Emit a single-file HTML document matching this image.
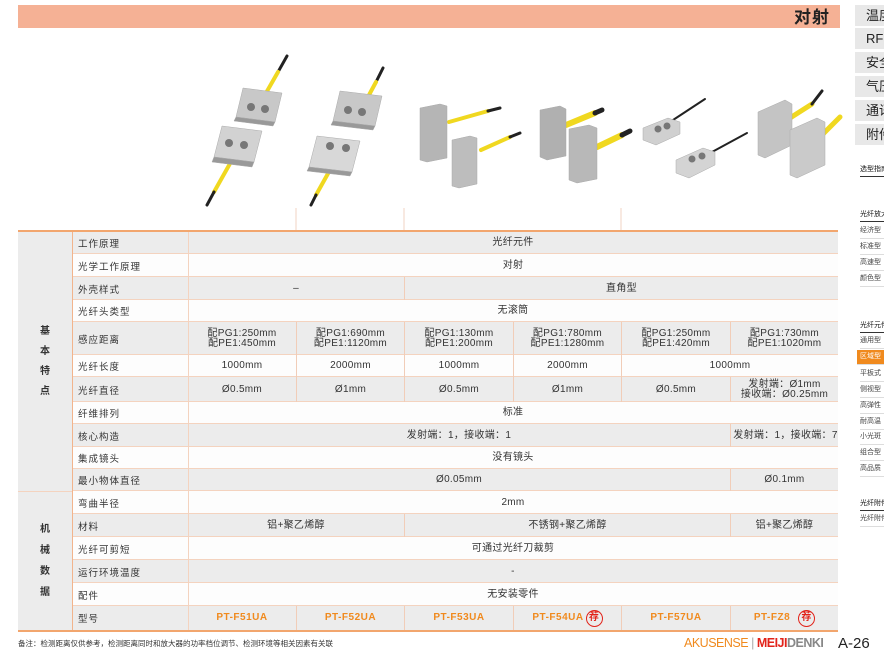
<!DOCTYPE html>
<html><head><meta charset="utf-8"><style>
*{margin:0;padding:0;box-sizing:border-box}
body{width:884px;height:660px;background:#fff;position:relative;overflow:hidden;font-family:"Liberation Sans","Noto Sans CJK SC",sans-serif;color:#333}
.a{position:absolute}
.r{position:absolute;left:72px;width:766px;border-bottom:1px solid #f4d3bf}
.g{background:#ececec}.w{background:#fdfdfd}
.lb{position:absolute;left:78px;font-size:9.5px;display:flex;align-items:center;letter-spacing:1px}
.c{position:absolute;display:flex;align-items:center;justify-content:center;font-size:10px;text-align:center;line-height:10px;letter-spacing:0.3px}
.bl{border-left:1px solid #f1cdb8}
.m{color:#f08a1e;font-weight:bold;font-size:10px;letter-spacing:0.5px}
.jian{display:inline-block;width:17px;height:17px;border:1.5px solid #e2231a;border-radius:50%;color:#e2231a;font-size:10px;line-height:14px;text-align:center;font-weight:bold;margin-left:2px}
.sb{position:absolute;left:855px;width:29px;height:21px;background:#e8e8e8;font-size:13px;line-height:21px;padding-left:11px;color:#222;overflow:hidden;white-space:nowrap}
.st{position:absolute;left:860px;font-size:7px;color:#444;white-space:nowrap;width:24px;overflow:hidden;border-bottom:1px solid #ddd;height:15px;line-height:14px}
.sh{position:absolute;left:860px;font-size:7px;color:#111;white-space:nowrap;width:24px;overflow:hidden;border-bottom:1px solid #333;height:14px;line-height:13px}
</style></head><body>
<div class="a" style="left:18px;top:5px;width:822px;height:23px;background:#f5b195"></div>
<div class="a" style="left:794px;top:3px;font-size:17px;font-weight:bold;color:#222;letter-spacing:1px">对射</div>

<div class="sb" style="top:5px">温度</div>
<div class="sb" style="top:28px">RF</div>
<div class="sb" style="top:52px">安全</div>
<div class="sb" style="top:76px">气压</div>
<div class="sb" style="top:100px">通讯</div>
<div class="sb" style="top:124px">附件</div>
<div class="sh" style="top:163px">选型指南</div>
<div class="sh" style="top:208px">光纤放大器</div>
<div class="st" style="top:224px">经济型</div>
<div class="st" style="top:240px">标准型</div>
<div class="st" style="top:256px">高速型</div>
<div class="st" style="top:272px">颜色型</div>
<div class="sh" style="top:319px">光纤元件</div>
<div class="st" style="top:334px">通用型</div>
<div class="st" style="top:350px;background:#f08a1e;color:#fff;left:857px;width:27px;padding-left:3px">区域型</div>
<div class="st" style="top:367px">平板式</div>
<div class="st" style="top:383px">侧视型</div>
<div class="st" style="top:399px">高弹性</div>
<div class="st" style="top:415px">耐高温</div>
<div class="st" style="top:430px">小光斑</div>
<div class="st" style="top:446px">组合型</div>
<div class="st" style="top:462px">高品质</div>
<div class="sh" style="top:497px">光纤附件</div>
<div class="st" style="top:512px">光纤附件</div>

<svg class="a" style="left:0;top:0" width="884" height="232">
<g stroke-linecap="round" fill="none">
<line x1="287" y1="56" x2="278" y2="72" stroke="#222" stroke-width="3"/>
<line x1="278" y1="72" x2="262" y2="100" stroke="#f0d820" stroke-width="4"/>
<line x1="232" y1="160" x2="214" y2="192" stroke="#f0d820" stroke-width="4"/>
<line x1="214" y1="192" x2="207" y2="205" stroke="#222" stroke-width="3"/>
<line x1="383" y1="68" x2="376" y2="82" stroke="#222" stroke-width="3"/>
<line x1="376" y1="82" x2="362" y2="108" stroke="#f0d820" stroke-width="4"/>
<line x1="330" y1="170" x2="316" y2="195" stroke="#f0d820" stroke-width="4"/>
<line x1="316" y1="195" x2="311" y2="205" stroke="#222" stroke-width="3"/>
<line x1="449" y1="122" x2="488" y2="111" stroke="#f0d820" stroke-width="4"/>
<line x1="488" y1="111" x2="500" y2="108" stroke="#222" stroke-width="3"/>
<line x1="481" y1="150" x2="510" y2="137" stroke="#f0d820" stroke-width="4"/>
<line x1="510" y1="137" x2="520" y2="133" stroke="#222" stroke-width="3"/>
<line x1="566" y1="125" x2="595" y2="113" stroke="#f0d820" stroke-width="6"/>
<line x1="595" y1="113" x2="602" y2="110" stroke="#222" stroke-width="5"/>
<line x1="597" y1="147" x2="622" y2="135" stroke="#f0d820" stroke-width="6"/>
<line x1="622" y1="135" x2="630" y2="131" stroke="#222" stroke-width="5"/>
<line x1="670" y1="122" x2="705" y2="99" stroke="#222" stroke-width="2"/>
<line x1="712" y1="152" x2="747" y2="133" stroke="#222" stroke-width="2"/>
<line x1="790" y1="118" x2="812" y2="104" stroke="#f0d820" stroke-width="5"/>
<line x1="812" y1="104" x2="822" y2="91" stroke="#222" stroke-width="3"/>
<line x1="820" y1="137" x2="840" y2="117" stroke="#f0d820" stroke-width="5"/>
</g>
<g stroke="#aaa" stroke-width="0.5">
<polygon points="243,88 282,93 275,122 236,117" fill="#c8c8c8"/>
<polygon points="236,117 275,122 273,126 234,121" fill="#999"/>
<polygon points="222,126 262,131 254,162 214,157" fill="#d2d2d2"/>
<polygon points="214,157 254,162 252,167 212,162" fill="#999"/>
<polygon points="340,91 382,96 375,126 333,121" fill="#c8c8c8"/>
<polygon points="333,121 375,126 373,130 331,125" fill="#999"/>
<polygon points="317,136 360,141 352,172 309,167" fill="#d8d8d8"/>
<polygon points="309,167 352,172 350,176 307,171" fill="#999"/>
<polygon points="420,108 440,104 447,106 447,158 427,162 420,160" fill="#b5b5b5"/>
<polygon points="452,140 470,136 477,138 477,184 459,188 452,186" fill="#bdbdbd"/>
<polygon points="540,110 560,106 566,109 566,156 547,160 540,157" fill="#b0b0b0"/>
<polygon points="569,129 589,125 597,128 597,179 577,183 569,180" fill="#b8b8b8"/>
<polygon points="643,128 668,118 680,122 680,134 656,145 643,140" fill="#d0d0d0"/>
<polygon points="676,160 703,148 715,152 715,165 689,178 676,173" fill="#d4d4d4"/>
<polygon points="758,112 785,100 792,104 792,145 765,158 758,155" fill="#c4c4c4"/>
<polygon points="790,130 817,118 825,122 825,165 797,178 790,175" fill="#cacaca"/>
</g>
<g fill="#777">
<circle cx="251" cy="107" r="4"/><circle cx="265" cy="109" r="4"/>
<circle cx="229" cy="143" r="4"/><circle cx="244" cy="145" r="4"/>
<circle cx="348" cy="110" r="4"/><circle cx="362" cy="112" r="4"/>
<circle cx="330" cy="146" r="4"/><circle cx="346" cy="148" r="4"/>
<circle cx="658" cy="129" r="3.5"/><circle cx="667" cy="126" r="3.5"/>
<circle cx="692" cy="159" r="3.5"/><circle cx="702" cy="156" r="3.5"/>
</g>
<g stroke="#f1d3c3" stroke-width="1"><line x1="296" y1="208" x2="296" y2="231"/><line x1="404" y1="208" x2="404" y2="231"/><line x1="621" y1="208" x2="621" y2="231"/></g>
</svg>

<div class="a" style="left:18px;top:230px;width:820px;height:2px;background:#f2a66e"></div>
<div class="a" style="left:18px;top:232px;width:54px;height:398px;background:#ececec"></div>
<div class="a" style="left:18px;top:491px;width:54px;height:1px;background:#f4d3bf"></div>
<div class="a" style="left:38px;top:232px;width:14px;height:259px;display:flex;flex-direction:column;justify-content:center;align-items:center;font-size:10px;line-height:20px;font-weight:bold">基<br>本<br>特<br>点</div>
<div class="a" style="left:38px;top:492px;width:14px;height:138px;display:flex;flex-direction:column;justify-content:center;align-items:center;font-size:10px;line-height:21px;font-weight:bold">机<br>械<br>数<br>据</div>

<div class="r g" style="top:232px;height:22px"></div>
<div class="r w" style="top:254px;height:23px"></div>
<div class="r g" style="top:277px;height:23px"></div>
<div class="r w" style="top:300px;height:22px"></div>
<div class="r g" style="top:322px;height:33px"></div>
<div class="r w" style="top:355px;height:22px"></div>
<div class="r g" style="top:377px;height:25px"></div>
<div class="r w" style="top:402px;height:22px"></div>
<div class="r g" style="top:424px;height:23px"></div>
<div class="r w" style="top:447px;height:22px"></div>
<div class="r g" style="top:469px;height:22px"></div>
<div class="r w" style="top:491px;height:23px"></div>
<div class="r g" style="top:514px;height:23px"></div>
<div class="r w" style="top:537px;height:23px"></div>
<div class="r g" style="top:560px;height:23px"></div>
<div class="r w" style="top:583px;height:23px"></div>
<div class="r g" style="top:606px;height:24px;border-bottom:none"></div>
<div class="a" style="left:18px;top:630px;width:820px;height:2px;background:#f2a66e"></div>
<div class="a" style="left:72px;top:232px;width:1px;height:398px;background:#f2b48c"></div>
<div class="a" style="left:188px;top:232px;width:1px;height:398px;background:#f4d3bf"></div>

<div class="lb" style="top:232px;height:22px">工作原理</div>
<div class="lb" style="top:254px;height:23px">光学工作原理</div>
<div class="lb" style="top:277px;height:23px">外壳样式</div>
<div class="lb" style="top:300px;height:22px">光纤头类型</div>
<div class="lb" style="top:322px;height:33px">感应距离</div>
<div class="lb" style="top:355px;height:22px">光纤长度</div>
<div class="lb" style="top:377px;height:25px">光纤直径</div>
<div class="lb" style="top:402px;height:22px">纤维排列</div>
<div class="lb" style="top:424px;height:23px">核心构造</div>
<div class="lb" style="top:447px;height:22px">集成镜头</div>
<div class="lb" style="top:469px;height:22px">最小物体直径</div>
<div class="lb" style="top:491px;height:23px">弯曲半径</div>
<div class="lb" style="top:514px;height:23px">材料</div>
<div class="lb" style="top:537px;height:23px">光纤可剪短</div>
<div class="lb" style="top:560px;height:23px">运行环境温度</div>
<div class="lb" style="top:583px;height:23px">配件</div>
<div class="lb" style="top:606px;height:24px">型号</div>

<div class="c" style="left:188px;width:650px;top:232px;height:22px">光纤元件</div>
<div class="c" style="left:188px;width:650px;top:254px;height:23px">对射</div>
<div class="c" style="left:188px;width:216px;top:277px;height:23px">–</div>
<div class="c bl" style="left:404px;width:434px;top:277px;height:23px">直角型</div>
<div class="c" style="left:188px;width:650px;top:300px;height:22px">无滚筒</div>

<div class="c" style="left:188px;width:108px;top:322px;height:33px">配PG1:250mm<br>配PE1:450mm</div>
<div class="c bl" style="left:296px;width:108px;top:322px;height:33px">配PG1:690mm<br>配PE1:1120mm</div>
<div class="c bl" style="left:404px;width:109px;top:322px;height:33px">配PG1:130mm<br>配PE1:200mm</div>
<div class="c bl" style="left:513px;width:108px;top:322px;height:33px">配PG1:780mm<br>配PE1:1280mm</div>
<div class="c bl" style="left:621px;width:109px;top:322px;height:33px">配PG1:250mm<br>配PE1:420mm</div>
<div class="c bl" style="left:730px;width:108px;top:322px;height:33px">配PG1:730mm<br>配PE1:1020mm</div>

<div class="c" style="left:188px;width:108px;top:355px;height:22px">1000mm</div>
<div class="c bl" style="left:296px;width:108px;top:355px;height:22px">2000mm</div>
<div class="c bl" style="left:404px;width:109px;top:355px;height:22px">1000mm</div>
<div class="c bl" style="left:513px;width:108px;top:355px;height:22px">2000mm</div>
<div class="c bl" style="left:621px;width:217px;top:355px;height:22px">1000mm</div>

<div class="c" style="left:188px;width:108px;top:377px;height:25px">Ø0.5mm</div>
<div class="c bl" style="left:296px;width:108px;top:377px;height:25px">Ø1mm</div>
<div class="c bl" style="left:404px;width:109px;top:377px;height:25px">Ø0.5mm</div>
<div class="c bl" style="left:513px;width:108px;top:377px;height:25px">Ø1mm</div>
<div class="c bl" style="left:621px;width:109px;top:377px;height:25px">Ø0.5mm</div>
<div class="c bl" style="left:730px;width:108px;top:377px;height:25px">发射端：Ø1mm<br>接收端：Ø0.25mm</div>

<div class="c" style="left:188px;width:650px;top:402px;height:22px">标准</div>
<div class="c" style="left:188px;width:542px;top:424px;height:23px">发射端：1，接收端：1</div>
<div class="c bl" style="left:730px;width:110px;top:424px;height:23px">发射端：1，接收端：7</div>
<div class="c" style="left:188px;width:650px;top:447px;height:22px">没有镜头</div>
<div class="c" style="left:188px;width:542px;top:469px;height:22px">Ø0.05mm</div>
<div class="c bl" style="left:730px;width:108px;top:469px;height:22px">Ø0.1mm</div>
<div class="c" style="left:188px;width:650px;top:491px;height:23px">2mm</div>
<div class="c" style="left:188px;width:216px;top:514px;height:23px">铝+聚乙烯醇</div>
<div class="c bl" style="left:404px;width:326px;top:514px;height:23px">不锈钢+聚乙烯醇</div>
<div class="c bl" style="left:730px;width:108px;top:514px;height:23px">铝+聚乙烯醇</div>
<div class="c" style="left:188px;width:650px;top:537px;height:23px">可通过光纤刀裁剪</div>
<div class="c" style="left:188px;width:650px;top:560px;height:23px">-</div>
<div class="c" style="left:188px;width:650px;top:583px;height:23px">无安装零件</div>

<div class="c m" style="left:188px;width:108px;top:606px;height:24px">PT-F51UA</div>
<div class="c m bl" style="left:296px;width:108px;top:606px;height:24px">PT-F52UA</div>
<div class="c m bl" style="left:404px;width:109px;top:606px;height:24px">PT-F53UA</div>
<div class="c m bl" style="left:513px;width:108px;top:606px;height:24px">PT-F54UA<span class="jian">荐</span></div>
<div class="c m bl" style="left:621px;width:109px;top:606px;height:24px">PT-F57UA</div>
<div class="c m bl" style="left:730px;width:108px;top:606px;height:24px">PT-FZ8 <span class="jian" style="margin-left:8px">荐</span></div>

<div class="a" style="left:18px;top:638px;font-size:7.5px;color:#333">备注：检测距离仅供参考，检测距离同时和放大器的功率档位调节、检测环境等相关因素有关联</div>
<div class="a" style="left:684px;top:636px;font-size:12.5px;letter-spacing:-0.5px;white-space:nowrap"><span style="color:#f08a1e">AKUSENSE</span> <span style="color:#aaa">|</span> <span style="color:#e2231a;font-weight:bold">MEIJI</span><span style="color:#888;font-weight:bold">DENKI</span></div>
<div class="a" style="left:838px;top:635px;font-size:15px;color:#222">A-26</div>
</body></html>
